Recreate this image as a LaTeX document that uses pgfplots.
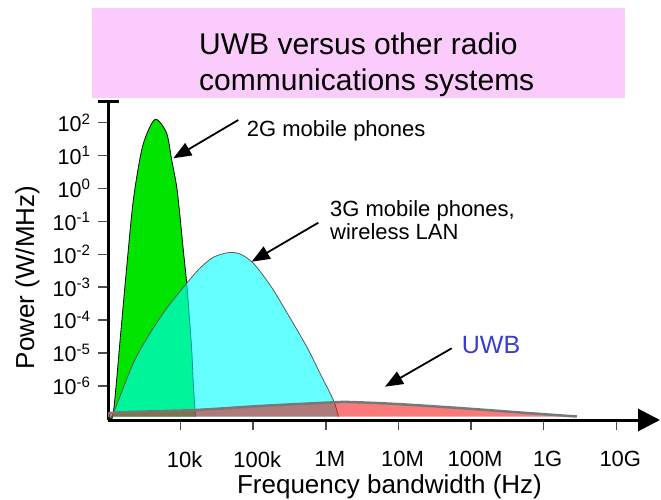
\documentclass[border=0pt]{standalone}
\usepackage{fontspec}
\setmainfont{Liberation Sans}
\usepackage{pgfplots}
\pgfplotsset{compat=1.18}
\usepackage{pgfplotstable}
\usetikzlibrary{arrows.meta}
\definecolor{titlepink}{RGB}{251,203,251}
\definecolor{gfill}{RGB}{0,228,0}
\definecolor{cfill}{RGB}{0,255,255}
\definecolor{ufill}{RGB}{245,0,0}
\definecolor{uwbblue}{RGB}{55,60,215}
\definecolor{cedge}{RGB}{90,90,90}
\definecolor{uedge}{RGB}{120,120,120}

% 2G mobile phones
\pgfplotstableread{
x y
1.023e3 1.175e-7
1.183e3 1.479e-7
1.496e3 3.981e-5
1.811e3 4.169e-3
2.234e3 0.4467
2.911e3 14.79
3.793e3 75.86
4.688e3 125.9
6.427e3 47.86
7.534e3 7.413
8.831e3 1.122
9.817e3 0.138
1.089e4 1.349e-2
1.213e4 1.318e-3
1.318e4 1.259e-4
1.422e4 1.230e-5
1.496e4 1.202e-6
1.578e4 1.862e-7
1.603e4 1.175e-7
}\greendata

% 3G mobile phones, wireless LAN
\pgfplotstableread{
x y
1.047e3 1.175e-7
1.183e3 1.479e-7
2.228e3 4.898e-6
3.793e3 3.981e-5
6.442e3 2.291e-4
1.213e4 1.318e-3
1.849e4 3.802e-3
2.825e4 8.128e-3
4.539e4 1.122e-2
6.577e4 1.023e-2
1.002e5 5.370e-3
1.702e5 1.175e-3
2.600e5 2.570e-4
5.458e5 1.549e-5
8.318e5 2.399e-6
1.268e6 3.715e-7
1.472e6 1.318e-7
1.496e6 1.175e-7
}\cyandata

% UWB
\pgfplotstableread{
x y
1.023e3 1.175e-7
1.183e3 1.531e-7
1.578e4 1.849e-7
1.242e5 2.455e-7
1.256e6 3.162e-7
2.153e6 3.236e-7
9.484e6 2.818e-7
7.762e7 2.089e-7
6.501e8 1.479e-7
2.858e9 1.175e-7
}\uwbdata

\begin{document}
\begin{tikzpicture}
\useasboundingbox (0pt,0pt) rectangle (661pt,500pt);
\fill[titlepink] (92pt,402pt) rectangle (625pt,492pt);
\node[anchor=base west, inner sep=0pt, font=\fontsize{30}{36}\selectfont] at (199pt,445.4pt) {UWB versus other radio};
\node[anchor=base west, inner sep=0pt, font=\fontsize{30}{36}\selectfont] at (199pt,409.5pt) {communications systems};
\begin{axis}[
  at={(108pt,80pt)}, anchor=south west,
  width=552pt, height=320pt, scale only axis,
  xmode=log, ymode=log,
  xmin=1e3, xmax=4e10, ymin=9.2e-8, ymax=489.8,
  axis x line=bottom, axis y line=left,
  x axis line style={line width=3pt, -{Triangle[length=22pt,width=22pt]}},
  y axis line style={line width=3pt, -{Bar[width=21pt]}},
  xtick={1e4,1e5,1e6,1e7,1e8,1e9,1e10},
  xticklabels={10k,100k,1M,10M,100M,1G,10G},
  ytick={1e-6,1e-5,1e-4,1e-3,1e-2,1e-1,1,10,100},
  yticklabels={10\textsuperscript{-6},10\textsuperscript{-5},10\textsuperscript{-4},10\textsuperscript{-3},10\textsuperscript{-2},10\textsuperscript{-1},10\textsuperscript{0},10\textsuperscript{1},10\textsuperscript{2}},
  tick align=outside,
  major tick length=10pt,
  tick style={line width=1.5pt, black!70},
  minor tick style={draw=none},
  xticklabel style={font=\fontsize{22}{24}\selectfont, anchor=north, xshift=4pt, yshift=-18pt},
  yticklabel style={font=\fontsize{21.5}{24}\selectfont, anchor=east, xshift=-4pt},
]
\addplot[draw=none, fill=gfill, smooth] table {\greendata} -- cycle;
\addplot[black, line width=0.8pt, smooth] table {\greendata};
\addplot[draw=none, fill=cfill, fill opacity=0.6, smooth] table {\cyandata} -- cycle;
\addplot[cedge, line width=0.8pt, smooth] table {\cyandata};
\addplot[draw=none, fill=ufill, fill opacity=0.52, smooth] table {\uwbdata} -- cycle;
\addplot[uedge, line width=2.5pt, smooth] table {\uwbdata};
\end{axis}
\node[anchor=base, rotate=90, inner sep=0pt, font=\fontsize{26}{30}\selectfont] at (34pt,222.5pt) {Power (W/MHz)};
\node[anchor=base, inner sep=0pt, font=\fontsize{26}{30}\selectfont] at (389.5pt,6pt) {Frequency bandwidth (Hz)};
\node[anchor=base west, inner sep=0pt, font=\fontsize{22}{26}\selectfont] at (246.7pt,363.3pt) {2G mobile phones};
\node[anchor=base west, inner sep=0pt, font=\fontsize{22}{26}\selectfont] at (330pt,283.3pt) {3G mobile phones,};
\node[anchor=base west, inner sep=0pt, font=\fontsize{22}{26}\selectfont] at (330pt,260pt) {wireless LAN};
\node[anchor=base west, inner sep=0pt, text=uwbblue, font=\fontsize{25}{28}\selectfont] at (461.7pt,146.7pt) {UWB};
\draw[line width=1.8pt, -{Triangle[length=18pt,width=14pt]}] (238.3pt,380pt) -- (173.3pt,341.7pt);
\draw[line width=1.8pt, -{Triangle[length=18pt,width=14pt]}] (318.3pt,277.3pt) -- (251.7pt,238.3pt);
\draw[line width=1.8pt, -{Triangle[length=18pt,width=14pt]}] (451.7pt,151.7pt) -- (385pt,113.3pt);
\end{tikzpicture}
\end{document}
